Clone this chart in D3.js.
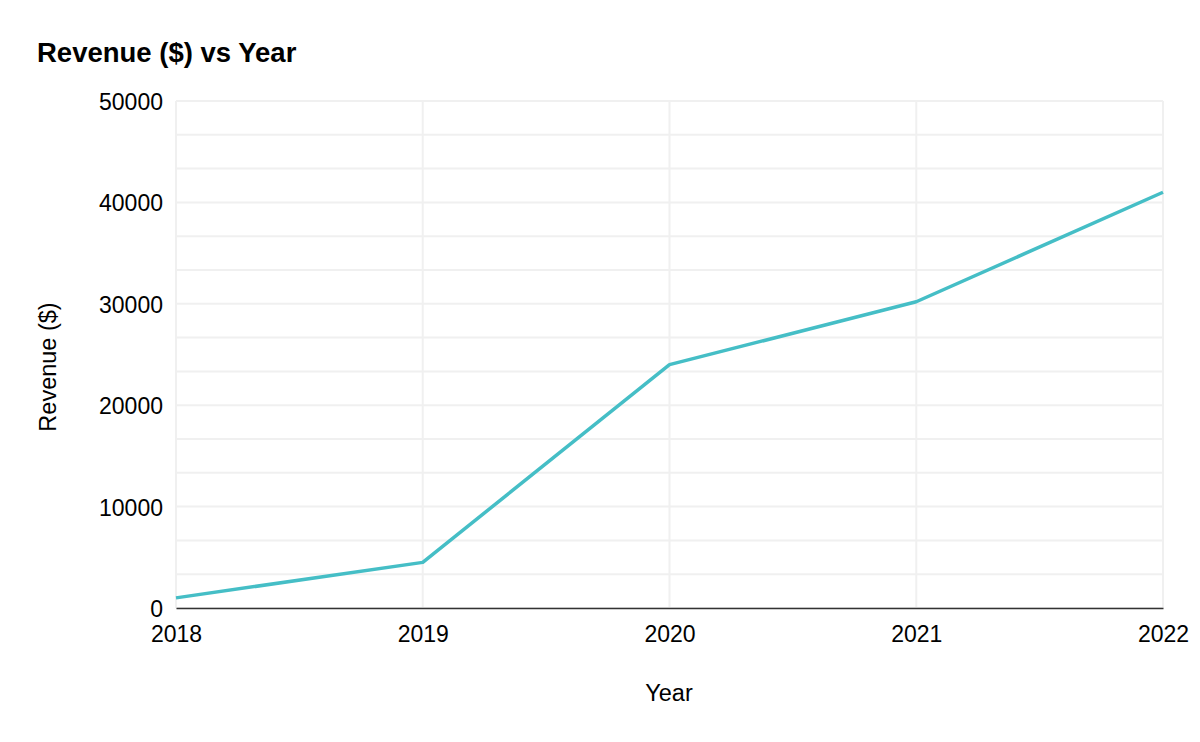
<!DOCTYPE html>
<html><head><meta charset="utf-8">
<script src="https://cdn.jsdelivr.net/npm/d3@7"></script>
<style>body{margin:0;background:#fff;}svg{display:block;font-family:"Liberation Sans",Arial,sans-serif;}</style>
</head><body><svg id="c" width="1200" height="742"></svg>
<script>
const years = [2018, 2019, 2020, 2021, 2022];
const revenue = [1000, 4500, 24000, 30200, 41000];
const yTicks = [0, 10000, 20000, 30000, 40000, 50000];
const title = "Revenue ($) vs Year";
const xTitle = "Year";
const yTitle = "Revenue ($)";

const svg = d3.select("#c");
const m = {left:176, right:1163, top:101, bottom:608};
const x = d3.scaleLinear().domain([2018, 2022]).range([m.left, m.right]);
const y = d3.scaleLinear().domain([0, 50000]).range([m.bottom, m.top]);

const grid = svg.append("g");
const minor = d3.range(0, 50001, 10000/3);
grid.selectAll("line.h").data(minor).join("line")
  .attr("x1", m.left).attr("x2", m.right)
  .attr("y1", d => y(d)).attr("y2", d => y(d))
  .attr("stroke", "#f0f0f0").attr("stroke-width", 2);
grid.selectAll("line.v").data(years).join("line")
  .attr("x1", d => x(d)).attr("x2", d => x(d))
  .attr("y1", m.top).attr("y2", m.bottom)
  .attr("stroke", "#f0f0f0").attr("stroke-width", 2);

// x axis
const xa = svg.append("g").attr("transform", `translate(0,${m.bottom})`)
  .call(d3.axisBottom(x).tickValues(years).tickFormat(d3.format("d")).tickSize(0).tickPadding(0));
xa.select(".domain").attr("stroke", "#333").attr("stroke-width", 1.5);
xa.selectAll("text").attr("font-size", 23).attr("fill", "#000").attr("dy", null).attr("y", 34)
  .attr("font-family", "Liberation Sans, Arial, sans-serif");

// y axis
const ya = svg.append("g").attr("transform", `translate(163,0)`)
  .call(d3.axisLeft(y).tickValues(yTicks).tickFormat(d3.format("d")).tickSize(0).tickPadding(0));
ya.select(".domain").remove();
ya.selectAll("text").attr("font-size", 23).attr("fill", "#000").attr("x", 0).attr("dy", null).attr("y", 8.5)
  .attr("font-family", "Liberation Sans, Arial, sans-serif");

// line
const line = d3.line().x((d, i) => x(years[i])).y(d => y(d));
svg.append("path").datum(revenue).attr("d", line)
  .attr("fill", "none").attr("stroke", "#45bec6").attr("stroke-width", 3.5)
  .attr("stroke-linejoin", "round");

svg.append("text").attr("x", 37).attr("y", 62).attr("font-size", 27.5).attr("font-weight", "bold").attr("fill", "#000").text(title);
svg.append("text").attr("x", 669).attr("y", 701).attr("text-anchor", "middle").attr("font-size", 23.5).attr("fill", "#000").text(xTitle);
svg.append("text").attr("transform", "translate(56,367) rotate(-90)").attr("text-anchor", "middle").attr("font-size", 23.5).attr("fill", "#000").text(yTitle);
</script></body></html>
